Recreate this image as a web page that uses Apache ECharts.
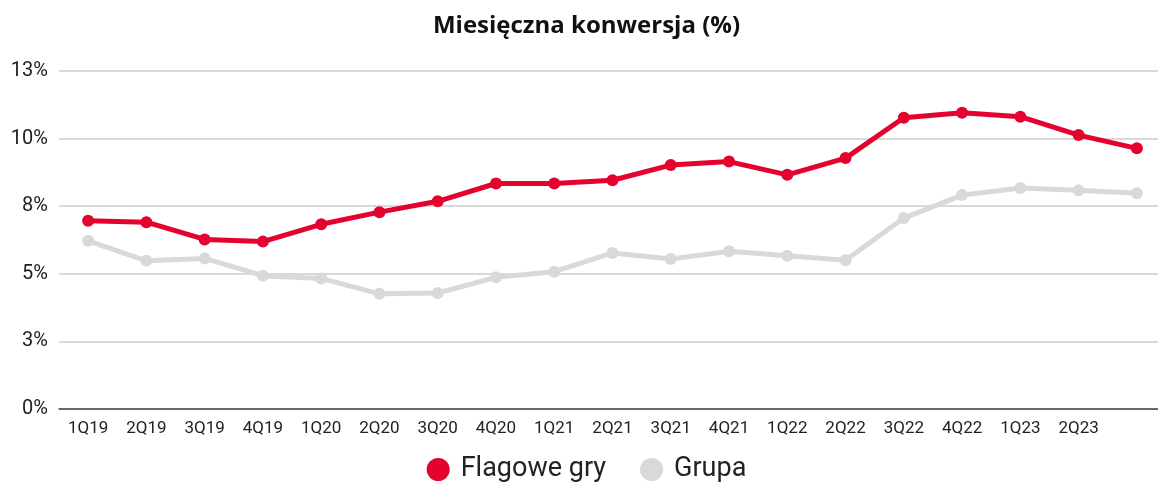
<!DOCTYPE html>
<html>
<head>
<meta charset="utf-8">
<script src="https://cdn.jsdelivr.net/npm/echarts@6/dist/echarts.min.js"></script>
<style>
  html, body { margin: 0; padding: 0; background: #fff; overflow: hidden; }
  #chart { width: 1173px; height: 488px; }
</style>
</head>
<body>
<div id="chart"></div>
<script>
// kwartały
const quarters = ['1Q19', '2Q19', '3Q19', '4Q19', '1Q20', '2Q20', '3Q20', '4Q20', '1Q21', '2Q21',
  '3Q21', '4Q21', '1Q22', '2Q22', '3Q22', '4Q22', '1Q23', '2Q23', '3Q23']
const flagoweGry = [6.96, 6.91, 6.27, 6.19, 6.83, 7.28, 7.68, 8.34, 8.34, 8.46,
  9.02, 9.15, 8.66, 9.28, 10.77, 10.96, 10.81, 10.13, 9.64]
const grupa = [6.22, 5.48, 5.57, 4.93, 4.83, 4.26, 4.29, 4.87, 5.08, 5.77,
  5.55, 5.83, 5.67, 5.50, 7.06, 7.91, 8.17, 8.09, 7.98]
const yTicks = [0, 2.5, 5, 7.5, 10, 12.5]

// wykres jest trochę szerszy niż okno, prawy margines wychodzi poza kadr
const myChart = echarts.init(document.getElementById('chart'))

const option = {
  animation: false,
  textStyle: { fontFamily: 'Roboto' },
  title: {
    text: 'Miesięczna konwersja (%)',
    left: 'center',
    top: 9,
    textStyle: { color: '#111', fontSize: 24, fontWeight: 'bold', fontFamily: 'Open Sans' }
  },
  legend: {
    data: ['Flagowe gry', 'Grupa'],
    bottom: 0,
    left: 'center',
    icon: 'circle',
    itemWidth: 23,
    itemHeight: 23,
    itemGap: 34,
    textStyle: { color: '#222', fontSize: 27, fontFamily: 'Roboto', padding: [0, 0, 0, 6] }
  },
  grid: {
    left: 59,
    right: 7,
    top: 71,
    bottom: 79,
    containLabel: false
  },
  xAxis: {
    type: 'category',
    boundaryGap: true,
    data: quarters,
    axisTick: { show: false },
    axisLine: { lineStyle: { color: '#444', width: 1.5 } },
    axisLabel: {
      color: '#222',
      fontSize: 17,
      margin: 11,
      interval: 0,
      formatter: (v, i) => (i === quarters.length - 1 ? '' : v)
    }
  },
  yAxis: {
    type: 'value',
    min: yTicks[0],
    max: yTicks[yTicks.length - 1],
    interval: 2.5,
    axisLine: { show: false },
    axisTick: { show: false },
    axisLabel: {
      color: '#222',
      fontSize: 20,
      margin: 11,
      formatter: v => Math.round(v) + '%'
    },
    splitLine: { lineStyle: { color: '#cccccc', width: 1.5 } }
  },
  series: [
    {
      name: 'Grupa',
      type: 'line',
      data: grupa,
      symbol: 'circle',
      symbolSize: 12,
      color: '#d9d9d9',
      lineStyle: { width: 5, color: '#d9d9d9' },
      itemStyle: { color: '#d9d9d9' }
    },
    {
      name: 'Flagowe gry',
      type: 'line',
      data: flagoweGry,
      symbol: 'circle',
      symbolSize: 12,
      color: '#e4032e',
      lineStyle: { width: 5, color: '#e4032e' },
      itemStyle: { color: '#e4032e' }
    }
  ]
}
myChart.setOption(option)
window.addEventListener('resize', () => {
  myChart.resize()
})
</script>
</body>
</html>
